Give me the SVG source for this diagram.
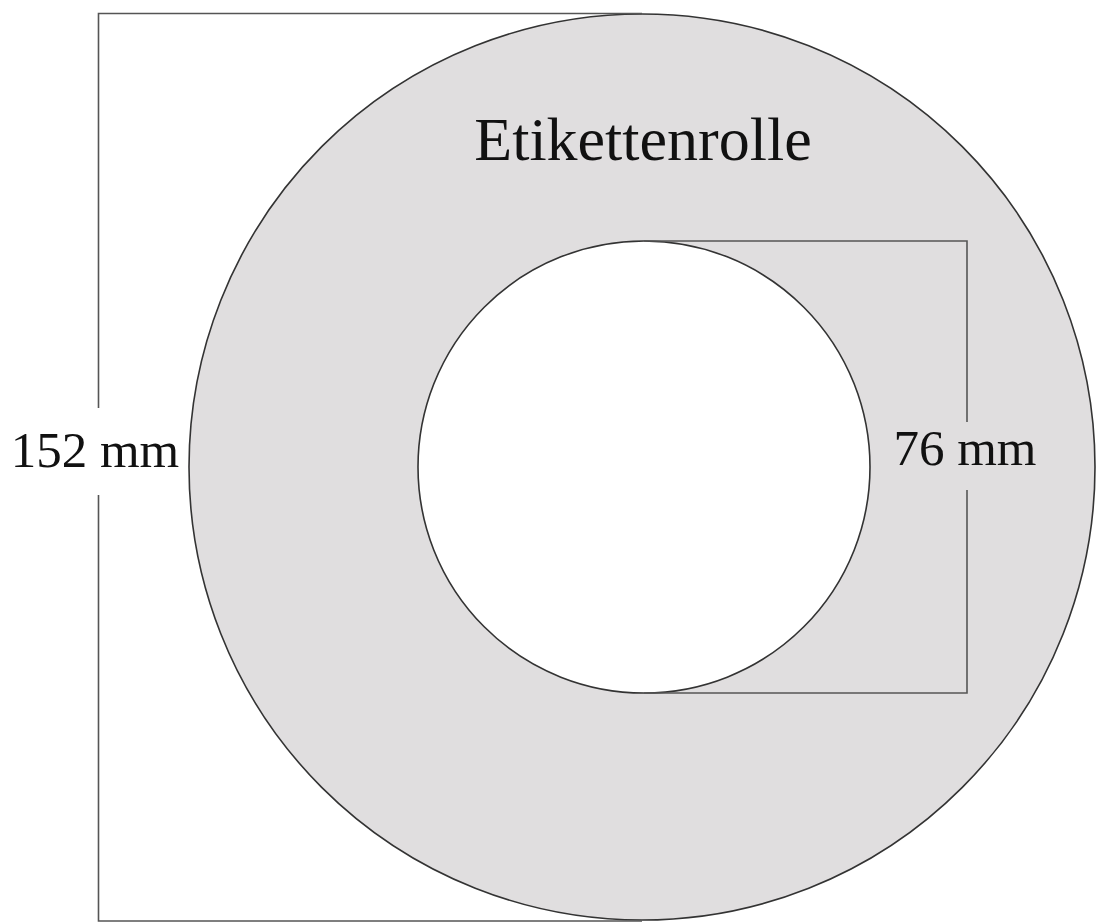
<svg xmlns="http://www.w3.org/2000/svg" width="1104" height="923" viewBox="0 0 1104 923">
<style>
.ring{fill:#e0dedf;stroke:#333;stroke-width:1.6}
.hole{fill:#ffffff;stroke:#333;stroke-width:1.6}
.dim{fill:none;stroke:#555;stroke-width:1.6}
.lbl{font-family:"Liberation Serif","DejaVu Serif",serif;fill:#111}
</style>
<rect width="1104" height="923" fill="#ffffff"/>
<g id="roll">
<circle class="ring" cx="642" cy="467" r="453"/>
<circle class="hole" cx="644" cy="467" r="226"/>
<text class="lbl" x="643" y="160" font-size="62" text-anchor="middle">Etikettenrolle</text>
</g>
<g id="connectors">
<path class="dim" d="M642,13.5 H98.5 V408 M98.5,495 V921 H642"/>
<path class="dim" d="M644,241 H967 V422 M967,490 V693 H644"/>
</g>
<g id="label-152">
<text class="lbl" x="95" y="467" font-size="51" text-anchor="middle">152 mm</text>
</g>
<g id="label-76">
<text class="lbl" x="965" y="465" font-size="51" text-anchor="middle">76 mm</text>
</g>
</svg>
